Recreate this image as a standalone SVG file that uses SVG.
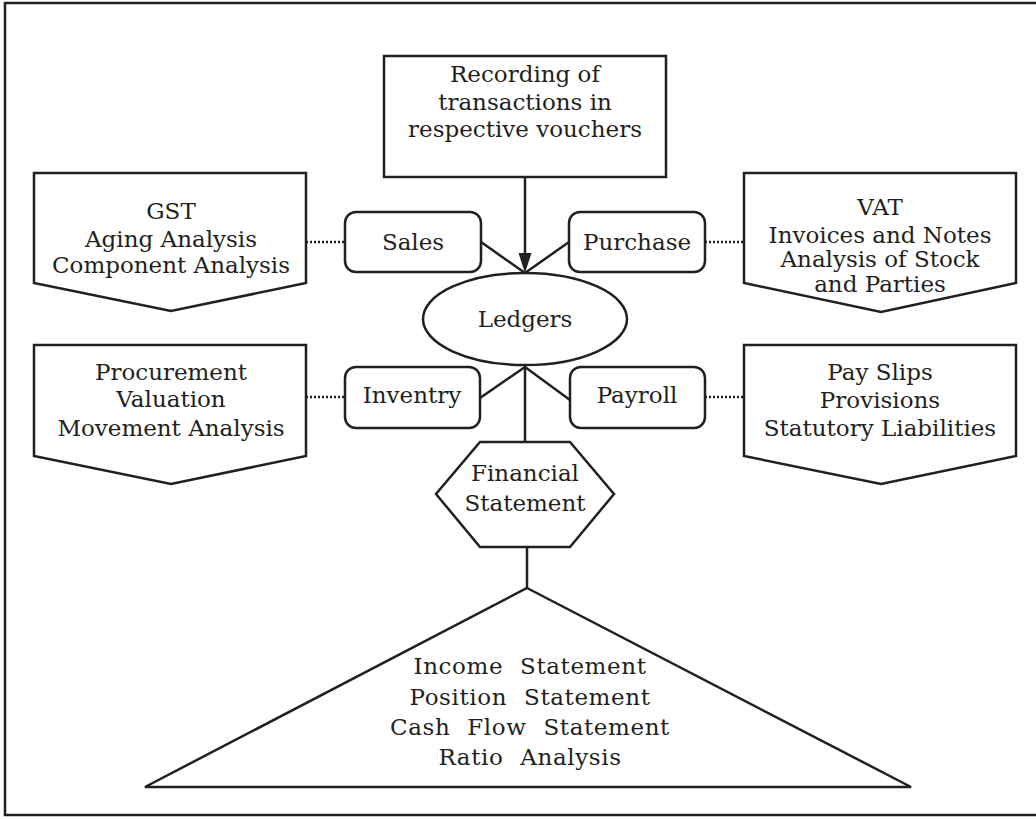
<svg xmlns="http://www.w3.org/2000/svg" width="1036" height="819" viewBox="0 0 1036 819">
  <style>
    .shape { fill: #fff; stroke: #231f20; stroke-width: 2.5; stroke-linejoin: miter; }
    .line { fill: none; stroke: #231f20; stroke-width: 2.5; }
    .dot { fill: none; stroke: #231f20; stroke-width: 2.5; stroke-dasharray: 2 2; }
    text { font-family: "DejaVu Serif", "Liberation Serif", serif; font-size: 23px; fill: #231f20; text-anchor: middle; }
    .wide { letter-spacing: 0.6px; word-spacing: 9px; }
  </style>

  <!-- page frame -->
  <rect x="5" y="3" width="1040" height="812" fill="none" stroke="#231f20" stroke-width="2.5"/>

  <g id="connectors">
    <line class="line" x1="525" y1="177" x2="525" y2="256"/>
    <path d="M518.5,253 L525,273 L531.5,253 Z" fill="#231f20"/>
    <polyline class="line" points="481,242 525,273 569,242"/>
    <polyline class="line" points="480,398 525,367 570,400"/>
    <line class="line" x1="525" y1="367" x2="525" y2="442"/>
    <line class="line" x1="527" y1="547" x2="527" y2="588"/>
    <line class="dot" x1="306" y1="242" x2="345" y2="242"/>
    <line class="dot" x1="705" y1="242" x2="744" y2="242"/>
    <line class="dot" x1="306" y1="397" x2="345" y2="397"/>
    <line class="dot" x1="705" y1="397" x2="744" y2="397"/>
  </g>

  <g id="vouchers">
    <rect class="shape" x="384" y="56" width="282" height="121"/>
    <text x="525" y="82">Recording of</text>
    <text x="525" y="110">transactions in</text>
    <text x="525" y="137">respective vouchers</text>
  </g>

  <g id="sales-reports">
    <polygon class="shape" points="34,173 306,173 306,283 171,311 34,283"/>
    <text x="171" y="219">GST</text>
    <text x="171" y="247">Aging Analysis</text>
    <text x="171" y="273">Component Analysis</text>
  </g>

  <g id="purchase-reports">
    <polygon class="shape" points="744,173 1016,173 1016,283 881,312 744,283"/>
    <text x="880" y="215">VAT</text>
    <text x="880" y="243">Invoices and Notes</text>
    <text x="880" y="267">Analysis of Stock</text>
    <text x="880" y="292">and Parties</text>
  </g>

  <g id="inventory-reports">
    <polygon class="shape" points="34,345 306,345 306,456 171,484 34,456"/>
    <text x="171" y="380">Procurement</text>
    <text x="171" y="407">Valuation</text>
    <text x="171" y="436">Movement Analysis</text>
  </g>

  <g id="payroll-reports">
    <polygon class="shape" points="744,345 1016,345 1016,456 881,484 744,456"/>
    <text x="880" y="380">Pay Slips</text>
    <text x="880" y="408">Provisions</text>
    <text x="880" y="436">Statutory Liabilities</text>
  </g>

  <g id="sales">
    <rect class="shape" x="345" y="212" width="136" height="60" rx="11"/>
    <text x="413" y="250">Sales</text>
  </g>

  <g id="purchase">
    <rect class="shape" x="569" y="212" width="136" height="60" rx="11"/>
    <text x="637" y="250">Purchase</text>
  </g>

  <g id="ledgers">
    <ellipse class="shape" cx="525" cy="319" rx="102" ry="46"/>
    <text x="525" y="327">Ledgers</text>
  </g>

  <g id="inventry">
    <rect class="shape" x="345" y="367" width="135" height="61" rx="11"/>
    <text x="412" y="403">Inventry</text>
  </g>

  <g id="payroll">
    <rect class="shape" x="570" y="367" width="135" height="61" rx="11"/>
    <text x="637" y="403">Payroll</text>
  </g>

  <g id="financial-statement">
    <polygon class="shape" points="480,442 570,442 614,494 570,547 480,547 436,494"/>
    <text x="525" y="481">Financial</text>
    <text x="525" y="511">Statement</text>
  </g>

  <g id="statements">
    <polygon class="shape" points="527,588 911,787 145,787"/>
    <text class="wide" x="530" y="674">Income Statement</text>
    <text class="wide" x="530" y="705">Position Statement</text>
    <text class="wide" x="530" y="735">Cash Flow Statement</text>
    <text class="wide" x="530" y="765">Ratio Analysis</text>
  </g>
</svg>
